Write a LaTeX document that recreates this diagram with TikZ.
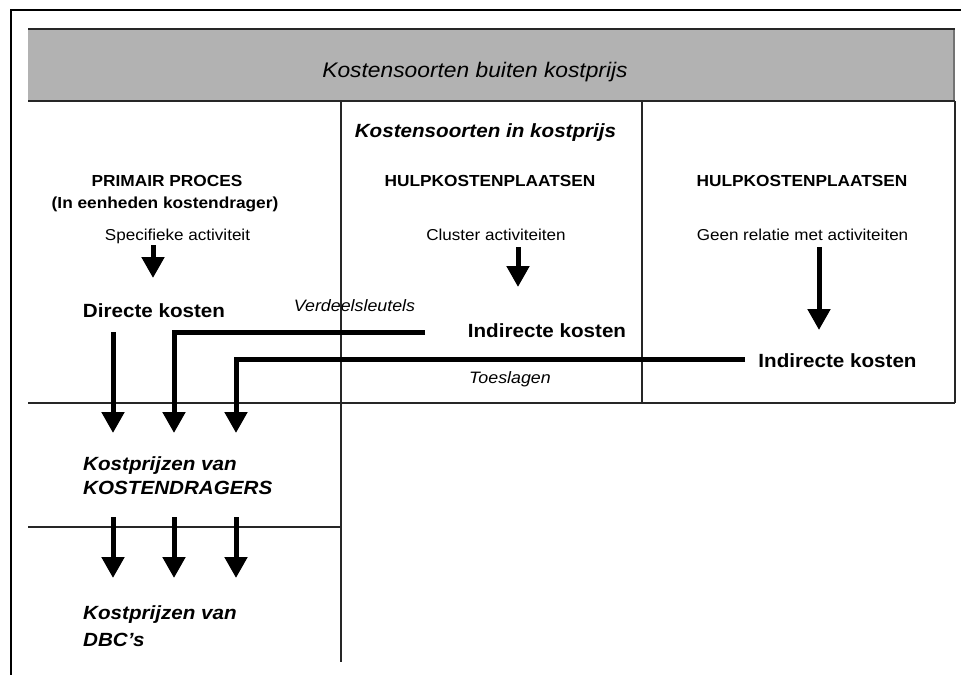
\documentclass[tikz,border=0pt]{standalone}
\usepackage{fontspec}
\usepackage{graphicx}
\setmainfont{Liberation Sans}
\usetikzlibrary{arrows.meta}

% slightly widened text, as in the printed scheme
\newcommand\widetxt[1]{\scalebox{1.08}[1]{#1}}
\newcommand\fsz[1]{\fontsize{#1}{#1}\selectfont}

\tikzset{
  cell/.style={line width=1.5pt, draw=black!85},
  frameline/.style={line width=2pt, draw=black},
  band/.style={fill=black!30, draw=none},
  bandedge/.style={line width=2.4pt, draw=black!85},
  flow/.style={line width=5pt, draw=black, -{Triangle[width=22pt,length=21pt]}},
  link/.style={line width=4.5pt, draw=black},
  lbl/.style={inner sep=0pt, anchor=base},
  lblw/.style={inner sep=0pt, anchor=base west},
  head/.style={lbl, font=\fsz{21.1}\itshape},
  sect/.style={lbl, font=\fsz{16}\bfseries},
  act/.style={lbl, font=\fsz{15.8}},
  cost/.style={lbl, font=\fsz{19.1}\bfseries},
  key/.style={lbl, font=\fsz{16.5}\itshape},
  price/.style={lblw, font=\fsz{19.1}\bfseries\itshape},
}

\begin{document}
\begin{tikzpicture}[x=1pt, y=1pt]
\useasboundingbox (0,0) rectangle (961,-675);

% outer frame (top and left edge)
\draw[frameline] (961,-9.5) -- (10.5,-9.5) -- (10.5,-675);

% grey band
\fill[band] (28,-29) rectangle (955,-101);
\draw[line width=1.5pt, draw=black!55] (954,-29) -- (954,-101);
\draw[bandedge] (28,-29) -- (955,-29);
\draw[bandedge] (28,-101) -- (955,-101);

% cell lines
\draw[cell] (341,-101) -- (341,-662);
\draw[cell] (642,-101) -- (642,-403);
\draw[cell] (955,-101) -- (955,-403);
\draw[cell] (28,-403) -- (955,-403);
\draw[cell] (28,-527) -- (341,-527);

% texts
\node[head] (title) at (475,-77) {\widetxt{Kostensoorten buiten kostprijs}};
\node[lbl, font=\fsz{19.1}\bfseries\itshape] (inkp) at (485.5,-137) {\widetxt{Kostensoorten in kostprijs}};

\node[sect] (pp1) at (167,-186) {\widetxt{PRIMAIR PROCES}};
\node[sect] (pp2) at (165,-208) {\widetxt{(In eenheden kostendrager)}};
\node[sect] (hp1) at (490,-186) {\widetxt{HULPKOSTENPLAATSEN}};
\node[sect] (hp2) at (802,-186) {\widetxt{HULPKOSTENPLAATSEN}};

\node[act] (act1) at (177.5,-240) {\widetxt{Specifieke activiteit}};
\node[act] (act2) at (496,-240) {\widetxt{Cluster activiteiten}};
\node[act] (act3) at (802.5,-240) {\widetxt{Geen relatie met activiteiten}};

\node[cost] (dk) at (154,-317) {\widetxt{Directe kosten}};
\node[cost] (ik1) at (547,-337) {\widetxt{Indirecte kosten}};
\node[cost] (ik2) at (837.5,-367) {\widetxt{Indirecte kosten}};

\node[key] (vs) at (354.5,-311) {\widetxt{Verdeelsleutels}};
\node[key] (ts) at (510,-383) {\widetxt{Toeslagen}};

\node[price] (kpa) at (83,-470) {\widetxt{Kostprijzen van}};
\node[price] (kpb) at (83,-494) {\widetxt{KOSTENDRAGERS}};
\node[price] (dbca) at (83,-619) {\widetxt{Kostprijzen van}};
\node[price] (dbcb) at (83,-646) {\widetxt{DBC’s}};

% arrows from the activities
\coordinate (a1s) at (153,-245);  \coordinate (a1e) at (153,-278);
\coordinate (a2s) at (518,-247);  \coordinate (a2e) at (518,-287);
\coordinate (a3s) at (819,-247);  \coordinate (a3e) at (819,-330);
\draw[flow] (a1s) -- (a1e);
\draw[flow] (a2s) -- (a2e);
\draw[flow] (a3s) -- (a3e);

% costs towards the cost carriers
\coordinate (dko) at (113,-332);
\coordinate (ik1o) at (425,-332);
\coordinate (ik2o) at (745,-359);
\coordinate (t1) at (113,-433);
\coordinate (t2) at (174,-433);
\coordinate (t3) at (236,-433);
\draw[flow] (dko) -- (t1);
\draw[flow] (ik1o) -| (t2);
\draw[flow] (ik2o) -| (t3);

% cost carriers towards the DBC's
\coordinate (s1) at (113,-517);  \coordinate (e1) at (113,-578);
\coordinate (s2) at (174,-517);  \coordinate (e2) at (174,-578);
\coordinate (s3) at (236,-517);  \coordinate (e3) at (236,-578);
\draw[flow] (s1) -- (e1);
\draw[flow] (s2) -- (e2);
\draw[flow] (s3) -- (e3);
\end{tikzpicture}
\end{document}
